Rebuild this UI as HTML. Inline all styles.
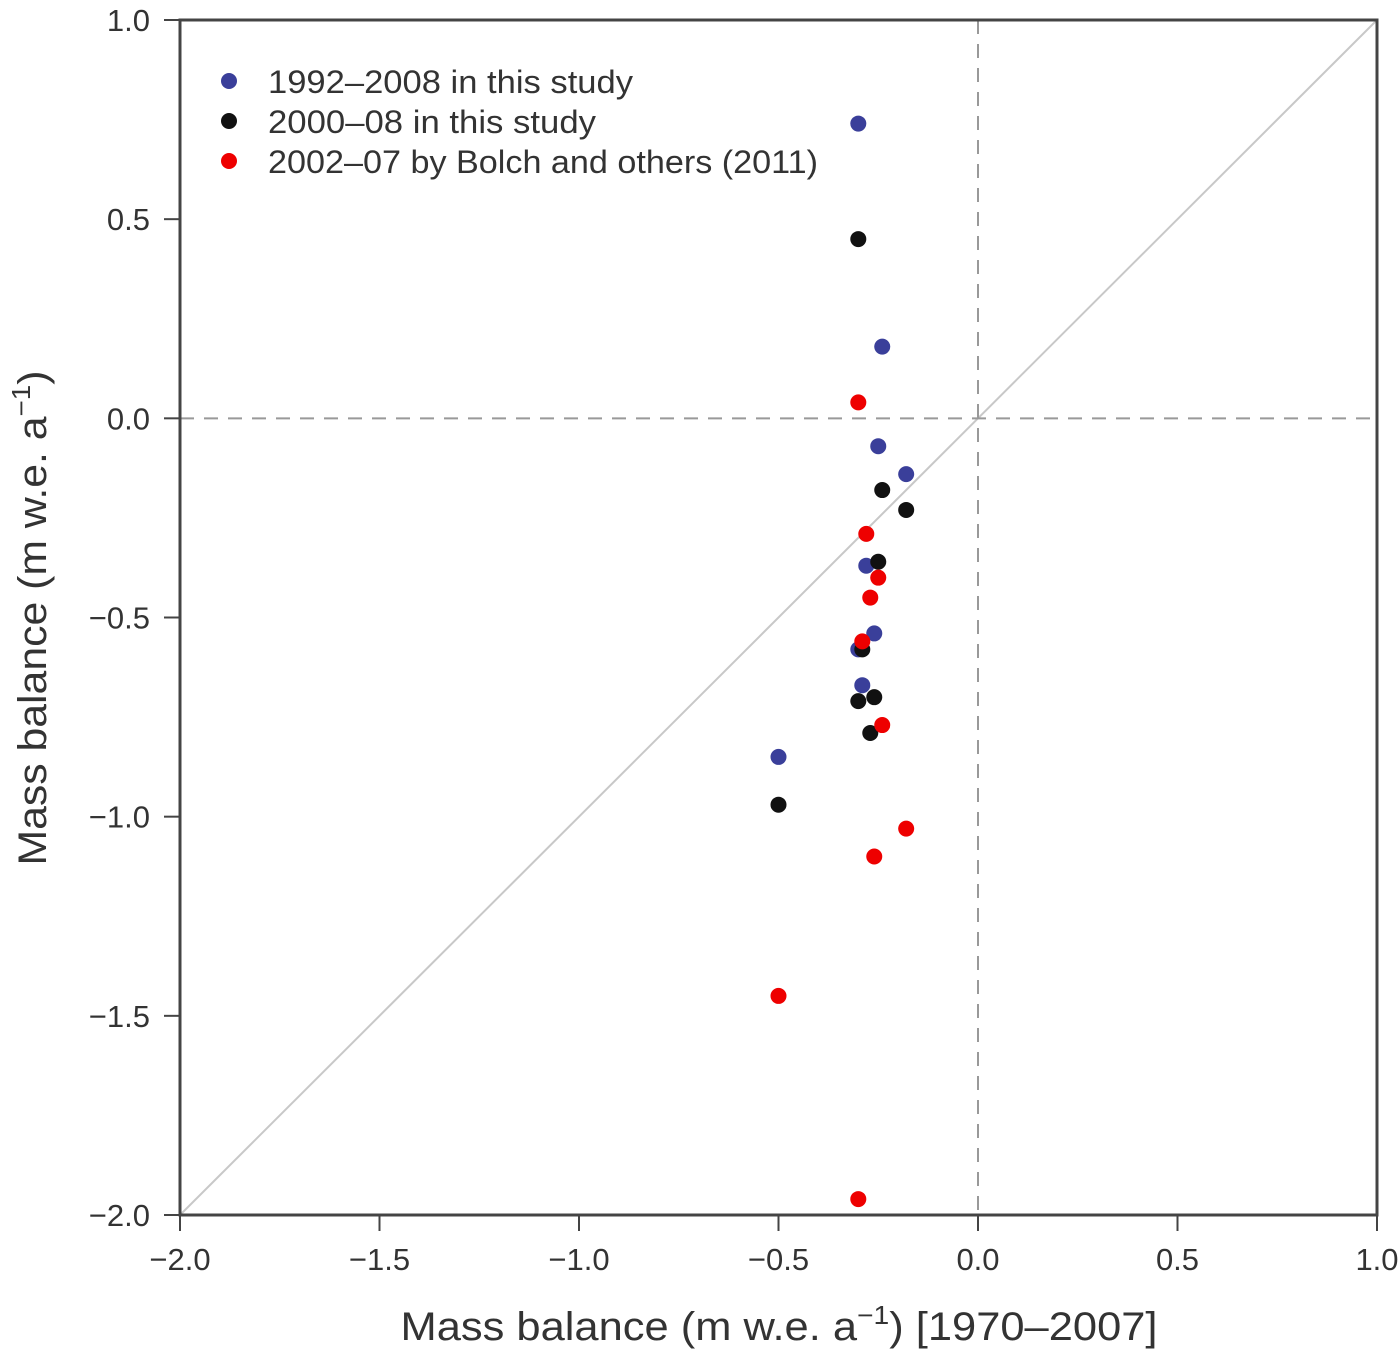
<!DOCTYPE html>
<html><head><meta charset="utf-8"><style>
html,body{margin:0;padding:0;background:#fff;}
svg{display:block;font-family:"Liberation Sans",sans-serif;}
</style></head><body>
<svg id="chart" width="1400" height="1353" viewBox="0 0 1400 1353" xmlns="http://www.w3.org/2000/svg">
<g id="axes"></g><g id="marks"></g><g id="legend"></g>
</svg>
<script>
const xTicks=[-2.0,-1.5,-1.0,-0.5,0.0,0.5,1.0];
const yTicks=[1.0,0.5,0.0,-0.5,-1.0,-1.5,-2.0];
const xTickLabels=["\u22122.0","\u22121.5","\u22121.0","\u22120.5","0.0","0.5","1.0"];
const yTickLabels=["1.0","0.5","0.0","\u22120.5","\u22121.0","\u22121.5","\u22122.0"];
const blueX=[-0.30,-0.24,-0.25,-0.18,-0.28,-0.26,-0.30,-0.29,-0.50];
const blueY=[0.74,0.18,-0.07,-0.14,-0.37,-0.54,-0.58,-0.67,-0.85];
const blackX=[-0.30,-0.24,-0.18,-0.25,-0.29,-0.30,-0.26,-0.27,-0.50];
const blackY=[0.45,-0.18,-0.23,-0.36,-0.58,-0.71,-0.70,-0.79,-0.97];
const redX=[-0.30,-0.28,-0.25,-0.27,-0.29,-0.24,-0.18,-0.26,-0.50,-0.30];
const redY=[0.04,-0.29,-0.40,-0.45,-0.56,-0.77,-1.03,-1.10,-1.45,-1.96];
const seriesNames=["1992\u20132008 in this study","2000\u201308 in this study","2002\u201307 by Bolch and others (2011)"];

const L=180,R=1377,T=20,B=1215;
const sx=v=>L+(v+2)/3*(R-L);
const sy=v=>T+(1-v)/3*(B-T);
const NS="http://www.w3.org/2000/svg";
function mk(tag,attrs,parent,text){const e=document.createElementNS(NS,tag);for(const k in attrs)e.setAttribute(k,attrs[k]);if(text!==undefined)e.textContent=text;parent.appendChild(e);return e;}
const axes=document.getElementById('axes'),marks=document.getElementById('marks'),legend=document.getElementById('legend');

// reference lines
let d=mk('line',{x1:sx(-2),y1:sy(-2),x2:sx(1),y2:sy(1),stroke:'#c8c8c8','stroke-width':2},axes);


let h=mk('line',{x1:L,y1:sy(0),x2:R,y2:sy(0),stroke:'#999','stroke-width':2,'stroke-dasharray':'14,10'},axes);


let v=mk('line',{x1:sx(0),y1:T,x2:sx(0),y2:B,stroke:'#999','stroke-width':2,'stroke-dasharray':'14,10'},axes);


let fr=mk('rect',{x:L,y:T,width:R-L,height:B-T,fill:'none',stroke:'#444','stroke-width':3},axes);



xTicks.forEach((t,i)=>{
  const tk=mk('line',{x1:sx(t),y1:B,x2:sx(t),y2:B+16,stroke:'#444','stroke-width':2},axes);
  
  
  const lb=mk('text',{x:sx(t),y:1270,'text-anchor':'middle','font-size':31,fill:'#333'},axes,xTickLabels[i]);
  
  
});
yTicks.forEach((t,i)=>{
  const tk=mk('line',{x1:L-16,y1:sy(t),x2:L,y2:sy(t),stroke:'#444','stroke-width':2},axes);
  
  
  const lb=mk('text',{x:150,y:sy(t)+11,'text-anchor':'end','font-size':31,fill:'#333'},axes,yTickLabels[i]);
  
  
});
const xt=mk('text',{x:779,y:1340,'text-anchor':'middle','font-size':40,fill:'#333',textLength:757,lengthAdjust:'spacingAndGlyphs'},axes);


xt.innerHTML='Mass balance (m w.e. a<tspan dy="-16" font-size="26">\u22121</tspan><tspan dy="16">) [1970\u20132007]</tspan>';
const yt=mk('text',{x:0,y:0,'text-anchor':'middle','font-size':40,fill:'#333',transform:'translate(46,618) rotate(-90)',textLength:495,lengthAdjust:'spacingAndGlyphs'},axes);


yt.innerHTML='Mass balance (m w.e. a<tspan dy="-16" font-size="26">\u22121</tspan><tspan dy="16">)</tspan>';

const series=[[blueX,blueY,'#3a3f9a','blue'],[blackX,blackY,'#111','black'],[redX,redY,'#e00','red']];
series.forEach(([xs,ys,c,n])=>{
  xs.forEach((xv,i)=>{
    const p=mk('circle',{cx:sx(xv),cy:sy(ys[i]),r:8,fill:c},marks);
    
    
  });
});
const legW=[365,328,550];
series.forEach(([xs,ys,c,n],i)=>{
  const yy=81+i*40;
  const m=mk('circle',{cx:229,cy:yy,r:8,fill:c},legend);
  
  
  const t=mk('text',{x:268,y:yy+12,'font-size':32,fill:'#333',textLength:legW[i],lengthAdjust:'spacingAndGlyphs'},legend,seriesNames[i]);
  
  
});
</script>
</body></html>
